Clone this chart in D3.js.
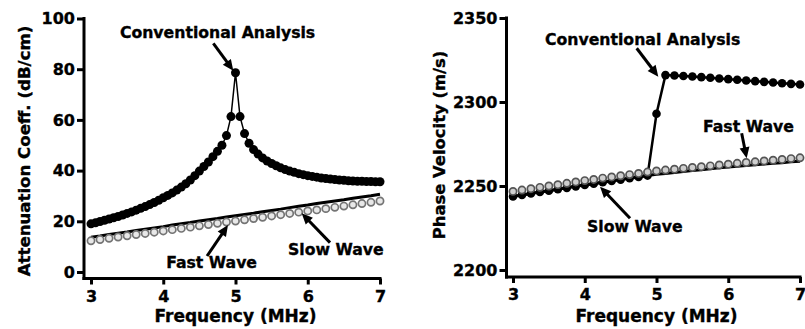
<!DOCTYPE html>
<html><head><meta charset="utf-8">
<script src="https://cdn.jsdelivr.net/npm/d3@7"></script>
<style>
body{margin:0;background:#fff}
svg{display:block}
text{font-family:"DejaVu Sans","Liberation Sans",Arial,sans-serif;font-weight:bold;fill:#000;stroke:#000;stroke-width:0.35px}
</style>
</head><body>
<svg id="c" width="805" height="329"></svg>
<script>
// ---------- DATA ----------
const freqTicks = [3, 4, 5, 6, 7];
const attenTicks = [0, 20, 40, 60, 80, 100];
const velTicks = [2200, 2250, 2300, 2350];

const freqCoarse = [3,3.125,3.25,3.375,3.5,3.625,3.75,3.875,4,4.125,4.25,4.375,4.5,4.625,4.75,4.875,5,
  5.125,5.25,5.375,5.5,5.625,5.75,5.875,6,6.125,6.25,6.375,6.5,6.625,6.75,6.875,7];

const freqFine = [3,3.0625,3.125,3.1875,3.25,3.3125,3.375,3.4375,3.5,3.5625,3.625,3.6875,3.75,3.8125,3.875,3.9375,
  4,4.0625,4.125,4.1875,4.25,4.3125,4.375,4.4375,4.5,4.5625,4.625,4.6875,4.75,4.8125,4.875,4.9375,
  5,5.0625,5.125,5.1875,5.25,5.3125,5.375,5.4375,5.5,5.5625,5.625,5.6875,5.75,5.8125,5.875,5.9375,
  6,6.0625,6.125,6.1875,6.25,6.3125,6.375,6.4375,6.5,6.5625,6.625,6.6875,6.75,6.8125,6.875,6.9375,7];

// Attenuation coefficient (dB/cm)
const attenConventional = [19.0,19.4,19.9,20.4,20.9,21.4,21.9,22.5,23.1,23.7,24.4,25.1,25.8,26.6,27.4,28.3,
  29.3,30.2,31.2,32.3,33.5,34.8,36.3,38.0,39.8,41.6,43.4,45.5,47.6,50.0,53.8,61.3,
  78.6,61.3,54.6,50.8,48.3,46.5,45.0,43.8,42.8,41.9,41.1,40.4,39.8,39.3,38.8,38.4,
  38.0,37.7,37.4,37.1,36.9,36.7,36.5,36.3,36.2,36.0,35.9,35.8,35.8,35.7,35.7,35.6,35.6];
const attenFastWave = [13.7,14.2,14.8,15.3,15.8,16.4,16.9,17.4,17.9,18.5,19.0,19.5,20.1,20.6,21.1,21.7,22.2,
  22.7,23.2,23.8,24.3,24.8,25.4,25.9,26.4,27.0,27.5,28.0,28.5,29.1,29.6,30.1,30.7];
const attenSlowWave = [12.3,12.8,13.3,13.8,14.3,14.8,15.2,15.7,16.2,16.7,17.2,17.7,18.2,18.7,19.2,19.7,20.1,
  20.6,21.1,21.6,22.1,22.6,23.1,23.6,24.1,24.5,25.0,25.5,26.0,26.5,27.0,27.5,28.0];

// Phase velocity (m/s)
const velConventional = [2243.8,2244.7,2245.5,2246.4,2247.2,2248.1,2248.9,2249.8,2250.6,2251.4,2252.2,2253.0,2253.8,2254.6,2255.4,2256.2,
  2293.0,2316.0,2315.8,2315.5,2315.2,2314.8,2314.4,2314.0,2313.6,2313.2,2312.8,2312.4,2312.0,2311.6,2311.2,2310.8,2310.4];
const velSlowWave = [2243.8,2244.7,2245.5,2246.4,2247.2,2248.1,2248.9,2249.8,2250.6,2251.4,2252.2,2253.0,2253.8,2254.6,2255.4,2256.2,
  2257.0,2257.5,2258.1,2258.6,2259.2,2259.7,2260.2,2260.8,2261.3,2261.7,2262.2,2262.6,2263.1,2263.5,2263.9,2264.4,2264.8];
const velFastWave = [2246.8,2247.6,2248.4,2249.2,2250.0,2250.8,2251.6,2252.4,2253.2,2253.9,2254.7,2255.4,2256.1,2256.8,2257.5,2258.3,
  2259.0,2259.5,2260.0,2260.5,2261.0,2261.5,2262.0,2262.5,2263.0,2263.5,2264.0,2264.4,2264.9,2265.4,2265.8,2266.3,2266.8];

// ---------- DRAW ----------
const svg = d3.select('#c');

function arrow(g, x1, y1, x2, y2) {
  const dx = x2 - x1, dy = y2 - y1, L = Math.hypot(dx, dy);
  const ux = dx / L, uy = dy / L, hl = 11, hw = 5;
  const bx = x2 - ux * hl, by = y2 - uy * hl;
  g.append('line').attr('x1', x1).attr('y1', y1).attr('x2', bx + ux * 2).attr('y2', by + uy * 2)
    .attr('stroke', '#000').attr('stroke-width', 3);
  g.append('path').attr('d', `M${x2},${y2}L${bx - uy * hw},${by + ux * hw}L${bx + uy * hw},${by - ux * hw}Z`)
    .attr('fill', '#000');
}

function drawPanel(o) {
  const g = svg.append('g');
  const x = d3.scaleLinear().domain([3, 7]).range(o.xRange);
  const y = d3.scaleLinear().domain(o.yDomain).range(o.yRange);

  const ya = g.append('g').attr('transform', `translate(${o.axisX},0)`)
    .call(d3.axisLeft(y).tickValues(o.yTicks).tickSize(7).tickPadding(2).tickFormat(d3.format('d')));
  ya.select('.domain').remove();
  ya.selectAll('line').attr('stroke-width', 3);
  ya.selectAll('text').style('font-size', '16px');

  const xa = g.append('g').attr('transform', `translate(0,${o.axisY})`)
    .call(d3.axisBottom(x).tickValues(freqTicks).tickSize(6).tickPadding(6).tickFormat(d3.format('d')));
  xa.select('.domain').remove();
  xa.selectAll('line').attr('stroke-width', 3);
  xa.selectAll('text').style('font-size', '16px');

  g.append('line').attr('x1', o.axisX).attr('x2', o.axisX).attr('y1', o.yRange[1] - 1.5).attr('y2', o.axisY + 1.5)
    .attr('stroke', '#000').attr('stroke-width', 3);
  g.append('line').attr('x1', o.axisX - 1.5).attr('x2', o.xRange[1] + 1.5).attr('y1', o.axisY).attr('y2', o.axisY)
    .attr('stroke', '#000').attr('stroke-width', 3);

  g.append('text').attr('x', (o.xRange[0] + o.xRange[1]) / 2).attr('y', 322)
    .attr('text-anchor', 'middle').style('font-size', '17px').text('Frequency (MHz)');
  g.append('text').attr('transform', `translate(${o.yTitleX},${o.yTitleY}) rotate(-90)`)
    .attr('text-anchor', 'middle').style('font-size', o.yTitleSize).text(o.yTitle);

  o.draw(g, x, y);

  o.notes.forEach(n => {
    g.append('text').attr('x', x(n.tx)).attr('y', y(n.ty)).style('font-size', '15.7px').text(n.label);
    arrow(g, x(n.ax1), y(n.ay1), x(n.ax2), y(n.ay2));
  });
}

function openCircles(g, x, y, xs, ys, stroke, fill) {
  g.append('g').selectAll('circle').data(xs).join('circle')
    .attr('cx', d => x(d)).attr('cy', (d, i) => y(ys[i])).attr('r', 3.6)
    .attr('fill', fill).attr('stroke', stroke).attr('stroke-width', 1.7);
}
function filledSeries(g, x, y, xs, ys, lw, r) {
  g.append('path').datum(xs).attr('fill', 'none').attr('stroke', '#000').attr('stroke-width', lw)
    .attr('d', d3.line().x(d => x(d)).y((d, i) => y(ys[i])));
  g.append('g').selectAll('circle').data(xs).join('circle')
    .attr('cx', d => x(d)).attr('cy', (d, i) => y(ys[i])).attr('r', r).attr('fill', '#000');
}
function plainLine(g, x, y, xs, ys) {
  g.append('path').datum(xs).attr('fill', 'none').attr('stroke', '#000').attr('stroke-width', 3)
    .attr('d', d3.line().x(d => x(d)).y((d, i) => y(ys[i])));
}

drawPanel({
  xRange: [91, 380], yDomain: [0, 100], yRange: [272, 18.5], axisX: 84, axisY: 278.5,
  yTicks: attenTicks, yTitle: 'Attenuation Coeff. (dB/cm)', yTitleX: 29.5, yTitleY: 151, yTitleSize: '16.6px',
  draw: (g, x, y) => {
    plainLine(g, x, y, freqCoarse, attenFastWave);
    openCircles(g, x, y, freqCoarse, attenSlowWave, '#747474', '#e8e8e8');
    filledSeries(g, x, y, freqFine, attenConventional, 1.5, 4.5);
  },
  notes: [
    {label: 'Conventional Analysis', tx: 3.40, ty: 92.3, ax1: 4.693, ay1: 90.2, ax2: 4.97, ay2: 79.4},
    {label: 'Fast Wave', tx: 4.04, ty: 1.6, ax1: 4.606, ay1: 6.3, ax2: 4.896, ay2: 18.5},
    {label: 'Slow Wave', tx: 5.727, ty: 6.7, ax1: 6.308, ay1: 11.6, ax2: 5.916, ay2: 23.2}
  ]
});

drawPanel({
  xRange: [513, 800], yDomain: [2200, 2350], yRange: [270, 18], axisX: 506.5, axisY: 277,
  yTicks: velTicks, yTitle: 'Phase Velocity (m/s)', yTitleX: 444.5, yTitleY: 145, yTitleSize: '16.4px',
  draw: (g, x, y) => {
    plainLine(g, x, y, freqCoarse, velSlowWave);
    filledSeries(g, x, y, freqCoarse, velConventional, 2.5, 4.3);
    openCircles(g, x, y, freqCoarse, velFastWave, '#555555', '#cfcfcf');
  },
  notes: [
    {label: 'Conventional Analysis', tx: 3.446, ty: 2333.9, ax1: 4.724, ay1: 2332.0, ax2: 5.025, ay2: 2315.1},
    {label: 'Fast Wave', tx: 5.648, ty: 2282.1, ax1: 6.187, ay1: 2281.4, ax2: 6.257, ay2: 2266.5},
    {label: 'Slow Wave', tx: 4.031, ty: 2222.6, ax1: 4.631, ay1: 2230.8, ax2: 4.213, ay2: 2249.6}
  ]
});
</script>
</body></html>
